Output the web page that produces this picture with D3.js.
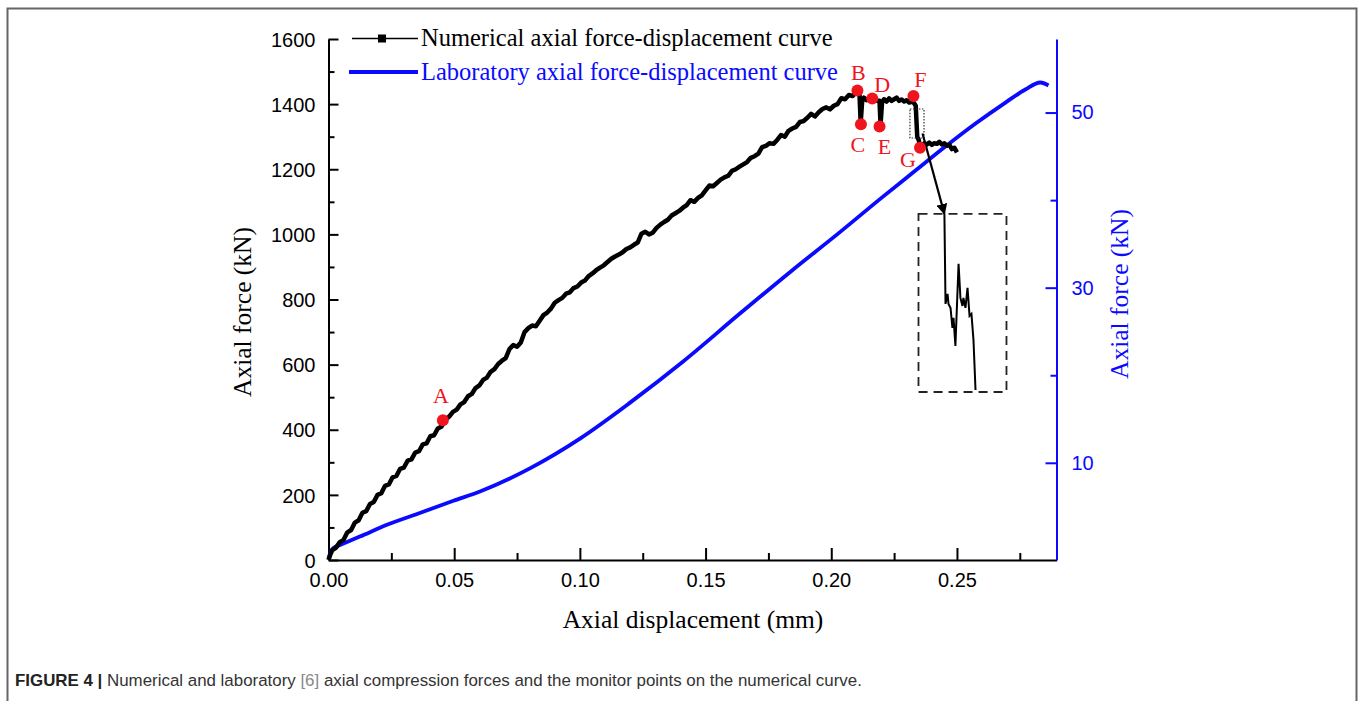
<!DOCTYPE html>
<html>
<head>
<meta charset="utf-8">
<script src="https://cdn.jsdelivr.net/npm/d3@7"></script>
<style>
  body { margin: 0; background: #fff; }
  svg { display: block; }
</style>
</head>
<body>
<div id="showBox"></div>
<script>
// numerical curve (kN)
const numDisp = [0, 0.0008, 0.0015, 0.003, 0.0045, 0.006, 0.0075, 0.009, 0.0105, 0.012, 0.0135, 0.015,
  0.0165, 0.018, 0.0195, 0.021, 0.0225, 0.024, 0.0255, 0.027, 0.0285, 0.03, 0.0315, 0.033, 0.0345, 0.036,
  0.0375, 0.039, 0.0405, 0.042, 0.0435, 0.045, 0.0465, 0.048, 0.0495, 0.051, 0.0525, 0.054, 0.0555, 0.057,
  0.0585, 0.06, 0.0615, 0.063, 0.0645, 0.066, 0.0675, 0.069, 0.0705, 0.072, 0.0735, 0.075, 0.0765, 0.078,
  0.0795, 0.081, 0.0825, 0.084, 0.0855, 0.087, 0.0885, 0.09, 0.0915, 0.093, 0.0945, 0.096, 0.0975, 0.099,
  0.1005, 0.102, 0.1035, 0.105, 0.1065, 0.108, 0.1095, 0.111, 0.1125, 0.114, 0.1155, 0.117, 0.1185, 0.12,
  0.1215, 0.123, 0.1245, 0.126, 0.1275, 0.129, 0.1305, 0.132, 0.1335, 0.135, 0.1365, 0.138, 0.1395, 0.141,
  0.1425, 0.144, 0.1455, 0.147, 0.1485, 0.15, 0.1515, 0.153, 0.1545, 0.156, 0.1575, 0.159, 0.1605, 0.162,
  0.1635, 0.165, 0.1665, 0.168, 0.1695, 0.171, 0.1725, 0.174, 0.1755, 0.177, 0.1785, 0.18, 0.1815, 0.183,
  0.1845, 0.186, 0.1875, 0.189, 0.1905, 0.192, 0.1935, 0.195, 0.1965, 0.198, 0.1995, 0.201, 0.2025, 0.204,
  0.2055, 0.207, 0.2085, 0.2104, 0.2112, 0.2117, 0.2123, 0.213, 0.214, 0.215, 0.2163, 0.218, 0.2192, 0.2196,
  0.2202, 0.221, 0.222, 0.223, 0.224, 0.225, 0.226, 0.227, 0.228, 0.229, 0.23, 0.231, 0.2325, 0.2336,
  0.2342, 0.2348, 0.2353, 0.236, 0.237, 0.238, 0.239, 0.24, 0.241, 0.242, 0.243, 0.244, 0.245, 0.246,
  0.247, 0.248, 0.249, 0.25];
const numForce = [0, 18, 30, 38, 55, 62, 85, 92, 115, 122, 145, 150,
  172, 178, 200, 205, 228, 232, 254, 258, 280, 284, 305, 309, 330, 334,
  355, 358, 380, 383, 404, 410, 432, 440, 455, 462, 478, 485, 503, 510,
  528, 536, 553, 560, 578, 586, 602, 612, 620, 648, 660, 655, 668, 700,
  712, 720, 718, 735, 752, 760, 772, 790, 798, 805, 818, 822, 835, 840,
  852, 858, 872, 880, 890, 898, 905, 915, 925, 932, 938, 945, 955, 960,
  968, 975, 1002, 1008, 1000, 1005, 1020, 1030, 1038, 1045, 1058, 1065, 1072, 1082,
  1090, 1105, 1100, 1112, 1120, 1135, 1150, 1148, 1158, 1168, 1175, 1180, 1195, 1200,
  1208, 1215, 1222, 1235, 1240, 1248, 1268, 1272, 1280, 1278, 1290, 1305, 1300, 1318,
  1325, 1330, 1345, 1348, 1358, 1370, 1362, 1375, 1385, 1390, 1384, 1395, 1400, 1418,
  1415, 1428, 1425, 1440, 1436, 1342, 1410, 1420, 1412, 1415, 1418, 1410, 1410, 1336,
  1405, 1415, 1408, 1418, 1410, 1415, 1420, 1410, 1414, 1408, 1412, 1405, 1408, 1395,
  1300, 1290, 1268, 1272, 1280, 1276, 1282, 1275, 1280, 1278, 1284, 1276, 1280, 1272,
  1275, 1262, 1266, 1252];

// laboratory curve (kN, right axis)
const labDisp = [0, 0.0008, 0.002, 0.0048, 0.0127, 0.0235, 0.0366, 0.0497, 0.0605, 0.0803, 0.1002,
  0.1201, 0.1412, 0.1639, 0.1838, 0.2037, 0.2196, 0.2335, 0.2454, 0.2574, 0.2693, 0.2772, 0.2832, 0.2864];
const labForce = [-0.97, -0.17, 0.29, 0.63, 1.6, 2.95, 4.3, 5.66, 6.75, 9.4, 12.8,
  16.9, 21.6, 27.1, 31.83, 36.4, 40.17, 43.37, 46.11, 48.74, 51.14, 52.63, 53.43, 53.09];

// monitor points
const monitorNames = ["A", "B", "C", "D", "E", "F", "G"];
const monitorDisp = [0.0455, 0.2104, 0.2118, 0.2163, 0.2192, 0.2327, 0.2353];
const monitorForce = [429, 1442, 1338, 1417, 1331, 1425, 1266];

// zoomed drop F -> G (magnified in inset)
const zoomDomainDisp = [0.2313, 0.2369];
const zoomDomainForce = [1296, 1385];
const insetDisp = [0.23295, 0.23302, 0.23315, 0.23321, 0.23334, 0.23346, 0.23353, 0.23365, 0.23385,
  0.23397, 0.2341, 0.23416, 0.23429, 0.23442, 0.23455, 0.23467, 0.2348, 0.23493];
const insetForce = [1385, 1340, 1345, 1340, 1338, 1328, 1333, 1319, 1360,
  1343, 1339, 1343, 1338, 1348, 1334, 1335, 1322, 1297];
// inset frame, in main chart units
const insetBoxDisp = [0.2347, 0.2697];
const insetBoxForce = [1063, 516];

const leftTicks = [0, 200, 400, 600, 800, 1000, 1200, 1400, 1600];
const leftMinor = [100, 300, 500, 700, 900, 1100, 1300, 1500];
const xTicks = [0, 0.05, 0.1, 0.15, 0.2, 0.25];
const xMinor = [0.025, 0.075, 0.125, 0.175, 0.225, 0.275];
const rightTicks = [10, 30, 50];
const rightMinor = [20, 40];

const W = 1358, H = 701;
const serif = "'Liberation Serif', 'Times New Roman', serif";
const sans = "'Liberation Sans', Arial, sans-serif";
const blue = "#0a0aff";
const red = "#f0141e";

const svg = d3.select("#showBox").append("svg")
  .attr("width", W).attr("height", H);

// figure frame
svg.append("path")
  .attr("d", "M7.5,720 V8.5 H1356.5 V720")
  .attr("fill", "none").attr("stroke", "#666").attr("stroke-width", 2);

const x = d3.scaleLinear().domain([0, 0.2896]).range([328.5, 1056.5]);
const yL = d3.scaleLinear().domain([0, 1600]).range([560, 39]);
const yR = d3.scaleLinear().domain([-1.1, 58.4]).range([560, 39]);

// axes
const gx = svg.append("g").attr("transform", "translate(0,560)");
gx.call(d3.axisBottom(x).tickValues(xTicks).tickFormat(d3.format(".2f")).tickSize(-12).tickSizeOuter(0).tickPadding(13));
gx.append("g").call(d3.axisBottom(x).tickValues(xMinor).tickFormat("").tickSize(-7).tickSizeOuter(0))
  .select(".domain").remove();

const gl = svg.append("g").attr("transform", "translate(328.5,0)");
gl.call(d3.axisLeft(yL).tickValues(leftTicks).tickFormat(d3.format("d")).tickSize(-10).tickSizeOuter(0).tickPadding(13));
gl.append("g").call(d3.axisLeft(yL).tickValues(leftMinor).tickFormat("").tickSize(-6).tickSizeOuter(0))
  .select(".domain").remove();

const gr = svg.append("g").attr("transform", "translate(1056.5,0)");
gr.call(d3.axisRight(yR).tickValues(rightTicks).tickFormat(d3.format("d")).tickSize(-11).tickSizeOuter(0).tickPadding(15));
gr.append("g").call(d3.axisRight(yR).tickValues(rightMinor).tickFormat("").tickSize(-6).tickSizeOuter(0))
  .select(".domain").remove();

[gx, gl].forEach(g => {
  g.selectAll(".domain, line").attr("stroke", "#000").attr("stroke-width", 2);
  g.selectAll("text").attr("font-family", sans).attr("font-size", 20).attr("fill", "#000");
});
gr.selectAll(".domain, line").attr("stroke", blue).attr("stroke-width", 2);
gr.selectAll("text").attr("font-family", sans).attr("font-size", 20).attr("fill", blue);
gl.selectAll(".tick text").attr("dy", "0.36em");

// axis titles
svg.append("text").attr("x", 693).attr("y", 628).attr("text-anchor", "middle")
  .attr("font-family", serif).attr("font-size", 25.5).text("Axial displacement (mm)");
svg.append("text").attr("transform", "translate(251,312) rotate(-90)").attr("text-anchor", "middle")
  .attr("font-family", serif).attr("font-size", 25.5).text("Axial force (kN)");
svg.append("text").attr("transform", "translate(1128,294) rotate(-90)").attr("text-anchor", "middle")
  .attr("font-family", serif).attr("font-size", 25.5).attr("fill", blue).text("Axial force (kN)");

// lab curve
const labLine = d3.line().x((d, i) => x(labDisp[i])).y(d => yR(d)).curve(d3.curveMonotoneX);
svg.append("path").attr("d", labLine(labForce))
  .attr("fill", "none").attr("stroke", blue).attr("stroke-width", 3.8);

// numerical curve
const numLine = d3.line().x((d, i) => x(numDisp[i])).y(d => yL(d));
svg.append("path").attr("d", numLine(numForce))
  .attr("fill", "none").attr("stroke", "#000").attr("stroke-width", 4.5).attr("stroke-linejoin", "round");

// dotted zoom box
svg.append("rect")
  .attr("x", x(zoomDomainDisp[0])).attr("y", yL(zoomDomainForce[1]))
  .attr("width", x(zoomDomainDisp[1]) - x(zoomDomainDisp[0]))
  .attr("height", yL(zoomDomainForce[0]) - yL(zoomDomainForce[1]))
  .attr("fill", "none").attr("stroke", "#333").attr("stroke-width", 1.2).attr("stroke-dasharray", "1.5,1.5");

// inset
const ix0 = x(insetBoxDisp[0]), ix1 = x(insetBoxDisp[1]);
const iy0 = yL(insetBoxForce[0]), iy1 = yL(insetBoxForce[1]);
svg.append("rect").attr("x", ix0).attr("y", iy0).attr("width", ix1 - ix0).attr("height", iy1 - iy0)
  .attr("fill", "none").attr("stroke", "#222").attr("stroke-width", 1.8).attr("stroke-dasharray", "9,6");
const xi = d3.scaleLinear().domain(zoomDomainDisp).range([ix0, ix1]);
const yi = d3.scaleLinear().domain(zoomDomainForce).range([iy1, iy0]);
const insetLine = d3.line().x((d, i) => xi(insetDisp[i])).y(d => yi(d));
svg.append("path").attr("d", insetLine(insetForce))
  .attr("fill", "none").attr("stroke", "#000").attr("stroke-width", 2);

// arrow from zoom box to inset
svg.append("defs").append("marker").attr("id", "arr")
  .attr("viewBox", "0 0 10 10").attr("refX", 9).attr("refY", 5)
  .attr("markerWidth", 5).attr("markerHeight", 5).attr("orient", "auto")
  .append("path").attr("d", "M0,0 L10,5 L0,10 z").attr("fill", "#000");
svg.append("line")
  .attr("x1", x(0.2363)).attr("y1", yL(1310))
  .attr("x2", xi(insetDisp[0])).attr("y2", yi(insetForce[0]))
  .attr("stroke", "#000").attr("stroke-width", 2.2).attr("marker-end", "url(#arr)");

// monitor points
const labelOffset = {A: [-2, -17], B: [1, -10], C: [-3, 28], D: [10, -7], E: [5, 27], F: [7, -9], G: [-12, 19]};
const mp = svg.append("g");
monitorNames.forEach((n, i) => {
  const cx = x(monitorDisp[i]), cy = yL(monitorForce[i]);
  mp.append("circle").attr("cx", cx).attr("cy", cy).attr("r", 6).attr("fill", red);
  mp.append("text").attr("x", cx + labelOffset[n][0]).attr("y", cy + labelOffset[n][1])
    .attr("text-anchor", "middle").attr("font-family", serif).attr("font-size", 22)
    .attr("fill", red).text(n);
});

// legend
const lg = svg.append("g");
lg.append("line").attr("x1", 352).attr("x2", 418).attr("y1", 38.5).attr("y2", 38.5)
  .attr("stroke", "#000").attr("stroke-width", 1.3);
lg.append("rect").attr("x", 378).attr("y", 34.5).attr("width", 8).attr("height", 8).attr("fill", "#000");
lg.append("text").attr("x", 421).attr("y", 46).attr("font-family", serif).attr("font-size", 24.5)
  .text("Numerical axial force-displacement curve");
lg.append("line").attr("x1", 349).attr("x2", 418).attr("y1", 72).attr("y2", 72)
  .attr("stroke", blue).attr("stroke-width", 4);
lg.append("text").attr("x", 421).attr("y", 80).attr("font-family", serif).attr("font-size", 24.5)
  .attr("fill", blue).text("Laboratory axial force-displacement curve");

// caption
const cap = svg.append("text").attr("x", 15).attr("y", 686)
  .attr("font-family", sans).attr("font-size", 16.9).attr("fill", "#333");
cap.append("tspan").attr("font-weight", "bold").attr("fill", "#222").text("FIGURE 4 | ");
cap.append("tspan").text("Numerical and laboratory ");
cap.append("tspan").attr("fill", "#888").text("[6]");
cap.append("tspan").text(" axial compression forces and the monitor points on the numerical curve.");
</script>
</body>
</html>
